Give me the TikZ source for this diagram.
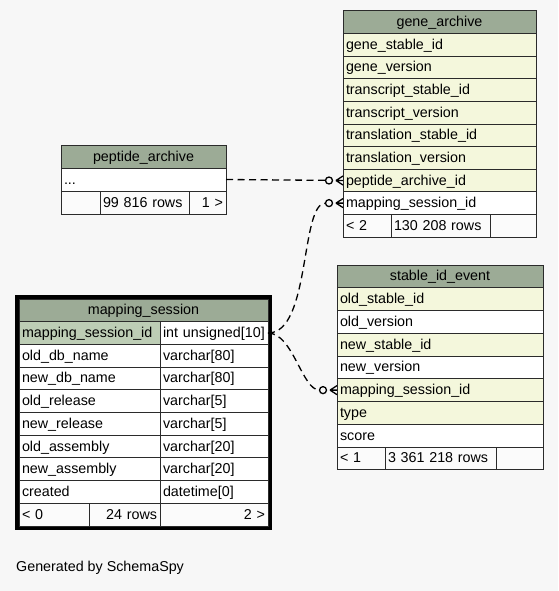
\documentclass[tikz,border=0pt]{standalone}
\usepackage{fontspec}
\setmainfont{Liberation Sans}
\definecolor{bgclr}{HTML}{F7F7F7}
\definecolor{hdrclr}{HTML}{9CAB96}
\definecolor{keyclr}{HTML}{BDCDB5}
\definecolor{colclr}{HTML}{F4F7DC}
\definecolor{lineclr}{HTML}{2B2B2B}
\definecolor{footclr}{HTML}{FBFBFB}
\tikzset{
 cell/.style={draw=lineclr, line width=1pt, fill=white, anchor=north west,
   inner xsep=3pt, inner ysep=0pt, outer sep=0pt, minimum height=22.6pt, text width=#1,
   align=left, text height=11.5pt, text depth=2.5pt,
   font=\fontsize{14.3}{16}\selectfont},
 hdr/.style={cell=#1, fill=hdrclr, align=center},
 foot/.style={cell=#1, fill=footclr},
 fk/.style={line width=1.3pt, dash pattern=on 7pt off 4.5pt, shorten >=17.5pt},
 crow/.pic={
   \draw[line width=1.3pt, fill=bgclr] (-14,0) circle (3.5pt);
   \draw[line width=1.3pt] (-7,0) -- (0,-4.5) (-7,0) -- (0,0) (-7,0) -- (0,4.5);
 }
}
\begin{document}
\begin{tikzpicture}[x=1pt,y=-1pt]
 \fill[bgclr] (0,0) rectangle (558,591);

 % gene_archive
 \node[hdr=187pt] (ga) at (343,11) {gene\_archive};
 \node[cell=187pt, fill=colclr] (ga-gsi) at (ga.south west) {gene\_stable\_id};
 \node[cell=187pt, fill=colclr] (ga-gv) at (ga-gsi.south west) {gene\_version};
 \node[cell=187pt, fill=colclr] (ga-tsi) at (ga-gv.south west) {transcript\_stable\_id};
 \node[cell=187pt, fill=colclr] (ga-tv) at (ga-tsi.south west) {transcript\_version};
 \node[cell=187pt, fill=colclr] (ga-lsi) at (ga-tv.south west) {translation\_stable\_id};
 \node[cell=187pt, fill=colclr] (ga-lv) at (ga-lsi.south west) {translation\_version};
 \node[cell=187pt, fill=colclr] (ga-pai) at (ga-lv.south west) {peptide\_archive\_id};
 \node[cell=187pt] (ga-msi) at (ga-pai.south west) {mapping\_session\_id};
 \node[foot=42pt] (ga-f1) at (ga-msi.south west) {< 2};
 \node[foot=93pt] (ga-f2) at (ga-f1.north east) {130 208 rows};
 \node[foot=40pt] (ga-f3) at (ga-f2.north east) {};

 % peptide_archive
 \node[hdr=159pt, minimum height=23pt] (pa) at (61,145) {peptide\_archive};
 \node[cell=159pt, minimum height=23pt] (pa-dots) at (pa.south west) {...};
 \node[foot=33pt, minimum height=23pt] (pa-f1) at (pa-dots.south west) {};
 \node[foot=83pt, minimum height=23pt] (pa-f2) at (pa-f1.north east) {99 816 rows};
 \node[foot=31pt, minimum height=23pt, align=right] (pa-f3) at (pa-f2.north east) {1 >};

 % mapping_session
 \draw[line width=4pt] (17,297) rectangle (270,528);
 \node[hdr=243pt, minimum height=22.7pt] (ms) at (19,299) {mapping\_session};
 \node[cell=135pt, fill=keyclr, minimum height=22.7pt] (ms-1a) at (ms.south west) {mapping\_session\_id};
 \node[cell=102pt, minimum height=22.7pt] (ms-1b) at (ms-1a.north east) {int unsigned[10]};
 \node[cell=135pt, minimum height=22.7pt] (ms-2a) at (ms-1a.south west) {old\_db\_name};
 \node[cell=102pt, minimum height=22.7pt] (ms-2b) at (ms-2a.north east) {varchar[80]};
 \node[cell=135pt, minimum height=22.7pt] (ms-3a) at (ms-2a.south west) {new\_db\_name};
 \node[cell=102pt, minimum height=22.7pt] (ms-3b) at (ms-3a.north east) {varchar[80]};
 \node[cell=135pt, minimum height=22.7pt] (ms-4a) at (ms-3a.south west) {old\_release};
 \node[cell=102pt, minimum height=22.7pt] (ms-4b) at (ms-4a.north east) {varchar[5]};
 \node[cell=135pt, minimum height=22.7pt] (ms-5a) at (ms-4a.south west) {new\_release};
 \node[cell=102pt, minimum height=22.7pt] (ms-5b) at (ms-5a.north east) {varchar[5]};
 \node[cell=135pt, minimum height=22.7pt] (ms-6a) at (ms-5a.south west) {old\_assembly};
 \node[cell=102pt, minimum height=22.7pt] (ms-6b) at (ms-6a.north east) {varchar[20]};
 \node[cell=135pt, minimum height=22.7pt] (ms-7a) at (ms-6a.south west) {new\_assembly};
 \node[cell=102pt, minimum height=22.7pt] (ms-7b) at (ms-7a.north east) {varchar[20]};
 \node[cell=135pt, minimum height=22.7pt] (ms-8a) at (ms-7a.south west) {created};
 \node[cell=102pt, minimum height=22.7pt] (ms-8b) at (ms-8a.north east) {datetime[0]};
 \node[foot=64pt, minimum height=22.7pt] (ms-f1) at (ms-8a.south west) {< 0};
 \node[foot=65pt, minimum height=22.7pt, align=right] (ms-f2) at (ms-f1.north east) {24 rows};
 \node[foot=102pt, minimum height=22.7pt, align=right] (ms-f3) at (ms-f2.north east) {2 >};

 % stable_id_event
 \node[hdr=200pt, minimum height=22.75pt] (sie) at (337,265) {stable\_id\_event};
 \node[cell=200pt, fill=colclr, minimum height=22.75pt] (sie-osi) at (sie.south west) {old\_stable\_id};
 \node[cell=200pt, minimum height=22.75pt] (sie-ov) at (sie-osi.south west) {old\_version};
 \node[cell=200pt, fill=colclr, minimum height=22.75pt] (sie-nsi) at (sie-ov.south west) {new\_stable\_id};
 \node[cell=200pt, minimum height=22.75pt] (sie-nv) at (sie-nsi.south west) {new\_version};
 \node[cell=200pt, fill=colclr, minimum height=22.75pt] (sie-msi) at (sie-nv.south west) {mapping\_session\_id};
 \node[cell=200pt, fill=colclr, minimum height=22.75pt] (sie-type) at (sie-msi.south west) {type};
 \node[cell=200pt, minimum height=22.75pt] (sie-score) at (sie-type.south west) {score};
 \node[foot=42pt, minimum height=22.75pt] (sie-f1) at (sie-score.south west) {< 1};
 \node[foot=105pt, minimum height=22.75pt] (sie-f2) at (sie-f1.north east) {3 361 218 rows};
 \node[foot=41pt, minimum height=22.75pt] (sie-f3) at (sie-f2.north east) {};

 % relations
 \draw[fk] (pa-dots.east) -- (ga-pai.west);
 \draw[fk] (ms-1b.east) .. controls +(43,0) and +(-43,0) .. (ga-msi.west);
 \draw[fk] (ms-1b.east) .. controls +(25,0) and +(-35,0) .. (sie-msi.west);
 \pic at (ga-pai.west) {crow};
 \pic at (ga-msi.west) {crow};
 \pic at (sie-msi.west) {crow};

 \node[anchor=base west, inner sep=0pt, font=\fontsize{14.3}{16}\selectfont] (gen) at (16,571) {Generated by SchemaSpy};
\end{tikzpicture}
\end{document}
